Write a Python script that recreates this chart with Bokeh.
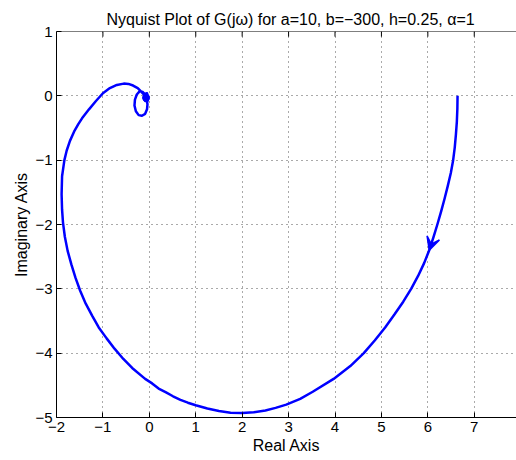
from bokeh.plotting import figure
from bokeh.models import Range1d, FixedTicker, Arrow, VeeHead, ColumnDataSource, Span
from bokeh.embed import file_html
from bokeh.resources import INLINE

# Nyquist curve G(jw) (increasing frequency)
re_vals = [6.64, 6.636, 6.625, 6.605, 6.58, 6.545, 6.495, 6.43, 6.36, 6.285, 6.205, 6.12, 6.03,
           5.92, 5.79, 5.64, 5.47, 5.28, 5.08, 4.86, 4.62, 4.33, 3.97, 3.52, 3.25, 2.95, 2.72,
           2.50, 2.25, 2.00, 1.75, 1.50, 1.25, 1.00, 0.83, 0.67, 0.51, 0.36, 0.20, 0.06,
           -0.09, -0.37, -0.56, -0.75, -0.92, -1.09, -1.23, -1.37, -1.49, -1.59, -1.68,
           -1.76, -1.82, -1.86, -1.88, -1.89, -1.88, -1.83, -1.78, -1.71, -1.61, -1.53,
           -1.45, -1.30, -1.15, -1.00, -0.85, -0.70, -0.55, -0.45, -0.35, -0.25, -0.18,
           -0.12, -0.06, -0.04, -0.05, -0.09, -0.16, -0.23, -0.29, -0.32, -0.31, -0.27,
           -0.21, -0.14, -0.09, -0.07]
im_vals = [0.00, -0.20, -0.40, -0.60, -0.80, -1.00, -1.20, -1.40, -1.60, -1.80, -2.00, -2.20, -2.40,
           -2.60, -2.80, -3.00, -3.20, -3.40, -3.60, -3.80, -4.00, -4.20, -4.40, -4.60, -4.71, -4.80, -4.85,
           -4.89, -4.92, -4.93, -4.925, -4.90, -4.86, -4.81, -4.77, -4.725, -4.67, -4.61, -4.55, -4.47,
           -4.40, -4.23, -4.09, -3.93, -3.77, -3.60, -3.42, -3.23, -3.03, -2.83, -2.62,
           -2.41, -2.19, -1.97, -1.77, -1.53, -1.25, -1.00, -0.85, -0.70, -0.54, -0.44,
           -0.35, -0.21, -0.08, 0.04, 0.12, 0.17, 0.19, 0.185, 0.16, 0.12, 0.07,
           0.02, -0.05, -0.13, -0.21, -0.28, -0.31, -0.30, -0.24, -0.15, -0.06, 0.02,
           0.07, 0.06, 0.02, -0.01]
# tight high-frequency windings near the end point
tail_re = [-0.07, -0.03, -0.04, -0.09, -0.12, -0.10, -0.05, -0.03, -0.06, -0.09, -0.09, -0.06, -0.05, -0.07]
tail_im = [-0.01, -0.04, -0.08, -0.08, -0.03, 0.03, 0.04, -0.01, -0.06, -0.05, -0.01, 0.01, -0.02, -0.03]

arrow_idx = 12  # direction arrow sits at this sample

x_ticks = [-2, -1, 0, 1, 2, 3, 4, 5, 6, 7, 8]
x_tick_labels = ["\u22122", "\u22121", "0", "1", "2", "3", "4", "5", "6", "7", "8"]
y_ticks = [-5, -4, -3, -2, -1, 0, 1]
y_tick_labels = ["\u22125", "\u22124", "\u22123", "\u22122", "\u22121", "0", "1"]

FONT = "Liberation Sans"

p = figure(width=516, height=460, output_backend="svg", toolbar_location=None,
           x_range=Range1d(-2, 7.91), y_range=Range1d(-5, 1),
           min_border_left=56, min_border_right=0, min_border_top=31, min_border_bottom=43,
           x_axis_label="Real Axis", y_axis_label="Imaginary Axis")
p.outline_line_color = None
p.background_fill_color = "white"
p.border_fill_color = "white"

p.title.text = "Nyquist Plot of G(j\u03c9) for a=10, b=\u2212300, h=0.25, \u03b1=1"
p.title.align = "left"
p.title.offset = 50
p.title.text_font = FONT
p.title.text_font_size = "16px"
p.title.text_font_style = "normal"
p.title.text_color = "black"
p.title.standoff = 8

for ax, ticks, labels in ((p.xaxis[0], x_ticks, x_tick_labels), (p.yaxis[0], y_ticks, y_tick_labels)):
    ax.ticker = FixedTicker(ticks=ticks)
    ax.major_label_overrides = {t: l for t, l in zip(ticks, labels)}
    ax.minor_tick_line_color = None
    ax.major_tick_in = 5
    ax.major_tick_out = 0
    ax.major_label_standoff = 4
    ax.axis_label_standoff = 2
    ax.major_label_text_font = FONT
    ax.major_label_text_font_size = "15px"
    ax.axis_label_text_font = FONT
    ax.axis_label_text_font_size = "16px"
    ax.axis_label_text_font_style = "normal"
    ax.axis_line_color = "black"
    ax.major_tick_line_color = "black"
    ax.major_label_text_color = "black"
    ax.axis_label_text_color = "black"

p.xgrid.ticker = FixedTicker(ticks=x_ticks)
p.ygrid.ticker = FixedTicker(ticks=y_ticks)
for g in (p.xgrid[0], p.ygrid[0]):
    g.grid_line_color = "#555555"
    g.grid_line_dash = "1 4"
    g.grid_line_width = 1

# top edge of the box with inward ticks
top_y = y_ticks[-1]
p.add_layout(Span(location=top_y, dimension="width", line_color="black", line_width=1))
p.segment(x0=x_ticks, y0=[top_y] * len(x_ticks), x1=x_ticks, y1=[top_y - 0.08] * len(x_ticks),
          line_color="black", line_width=1)

src = ColumnDataSource(dict(x=re_vals, y=im_vals))
p.line("x", "y", source=src, line_color="#0000FF", line_width=2.5, line_join="round")
p.line(tail_re, tail_im, line_color="#0000FF", line_width=2.5, line_join="round")
p.scatter([tail_re[-1]], [tail_im[-1]], size=7, color="#0000FF")

p.add_layout(Arrow(x_start=re_vals[arrow_idx - 1], y_start=im_vals[arrow_idx - 1],
                   x_end=re_vals[arrow_idx], y_end=im_vals[arrow_idx],
                   line_alpha=0,
                   end=VeeHead(size=13, fill_color="#0000FF", line_color="#0000FF", line_width=1.5)))

open("out.html", "w").write(file_html(p, INLINE))
